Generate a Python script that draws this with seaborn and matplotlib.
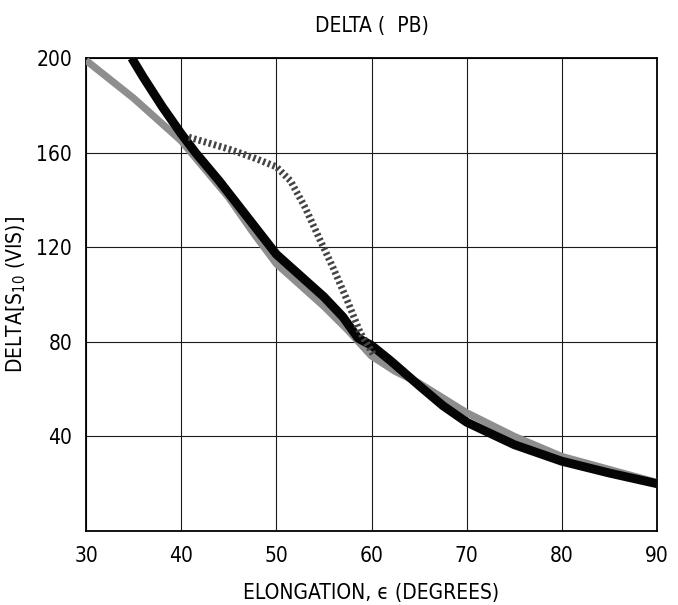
import matplotlib
matplotlib.use("Agg")
import matplotlib.pyplot as plt
import seaborn as sns
import pandas as pd

# Elongation (degrees) and DELTA[S10(VIS)] readings for each curve
black_x = [34.8, 36, 38, 40, 41.5, 44, 47, 50, 52.5, 55, 57, 58.6, 60, 62, 65, 67.5, 70, 75, 80, 85, 90]
black_y = [200, 192, 179.5, 168, 160, 148, 132.5, 117, 108, 99, 90.5, 81.5, 78.5, 72, 61.5, 53, 46, 36.5, 29.5, 24.5, 20]

gray_x = [30, 32.5, 35, 37.5, 40, 42.5, 45, 47.5, 50, 52.5, 55, 57.5, 60, 62.5, 65, 70, 75, 80, 85, 90]
gray_y = [199, 191, 183, 174, 165, 153, 141, 126.5, 113, 104, 95, 85, 74, 67.5, 62.5, 50, 40, 31.5, 26, 20.5]

dotted_x = [40.8, 42.5, 45, 47.5, 50, 51.5, 53, 54.6, 56, 57.5, 58.8, 60.3]
dotted_y = [166.5, 164.5, 161.5, 158, 154, 148, 137, 123, 111, 97, 84, 74]

x_ticks = [30, 40, 50, 60, 70, 80, 90]
y_ticks = [40, 80, 120, 160, 200]

sns.set_style("white")
plt.rcParams["font.family"] = ["DejaVu Sans"]
plt.rcParams["font.stretch"] = "condensed"
plt.rcParams["text.color"] = "black"
plt.rcParams["axes.labelcolor"] = "black"
plt.rcParams["mathtext.fontset"] = "custom"
plt.rcParams["mathtext.rm"] = "DejaVu Sans:stretch=condensed"

fig = plt.figure(figsize=(6.78, 6.05), dpi=100)
ax = fig.add_axes([86 / 678, 1 - 531 / 605, (657 - 86) / 678, (531 - 58) / 605])

gray_df = pd.DataFrame({"x": gray_x, "y": gray_y})
black_df = pd.DataFrame({"x": black_x, "y": black_y})
dotted_df = pd.DataFrame({"x": dotted_x, "y": dotted_y})

sns.lineplot(data=gray_df, x="x", y="y", sort=False, estimator=None, ax=ax,
             color="#8e8e8e", linewidth=5.2, solid_capstyle="butt", zorder=3)
sns.lineplot(data=black_df, x="x", y="y", sort=False, estimator=None, ax=ax,
             color="#050505", linewidth=6.4, solid_capstyle="butt", zorder=4)
line = sns.lineplot(data=dotted_df, x="x", y="y", sort=False, estimator=None, ax=ax,
                    color="#444444", linewidth=5.0, zorder=5).lines[-1]
line.set_dashes([0.35, 0.4])
line.set_dash_capstyle("butt")

ax.set_xlim(30, 90)
ax.set_ylim(0, 200)
ax.set_xticks(x_ticks)
ax.set_yticks(y_ticks)
ax.grid(True, color="#1a1a1a", linewidth=0.8)
ax.set_axisbelow(True)
for s in ax.spines.values():
    s.set_color("black")
    s.set_linewidth(1.3)
ax.tick_params(axis="both", length=0, labelsize=15, colors="black")
ax.tick_params(axis="x", pad=11)
ax.tick_params(axis="y", pad=10)

ax.set_xlabel("ELONGATION, ϵ (DEGREES)", fontsize=15, labelpad=12)
ax.set_ylabel(r"DELTA$\left[\mathrm{S_{10}\ (VIS)}\right]$", fontsize=15, labelpad=6)
ax.set_title("DELTA (  PB)", fontsize=15, pad=19, color="black")

fig.savefig("out.png", dpi=100)
